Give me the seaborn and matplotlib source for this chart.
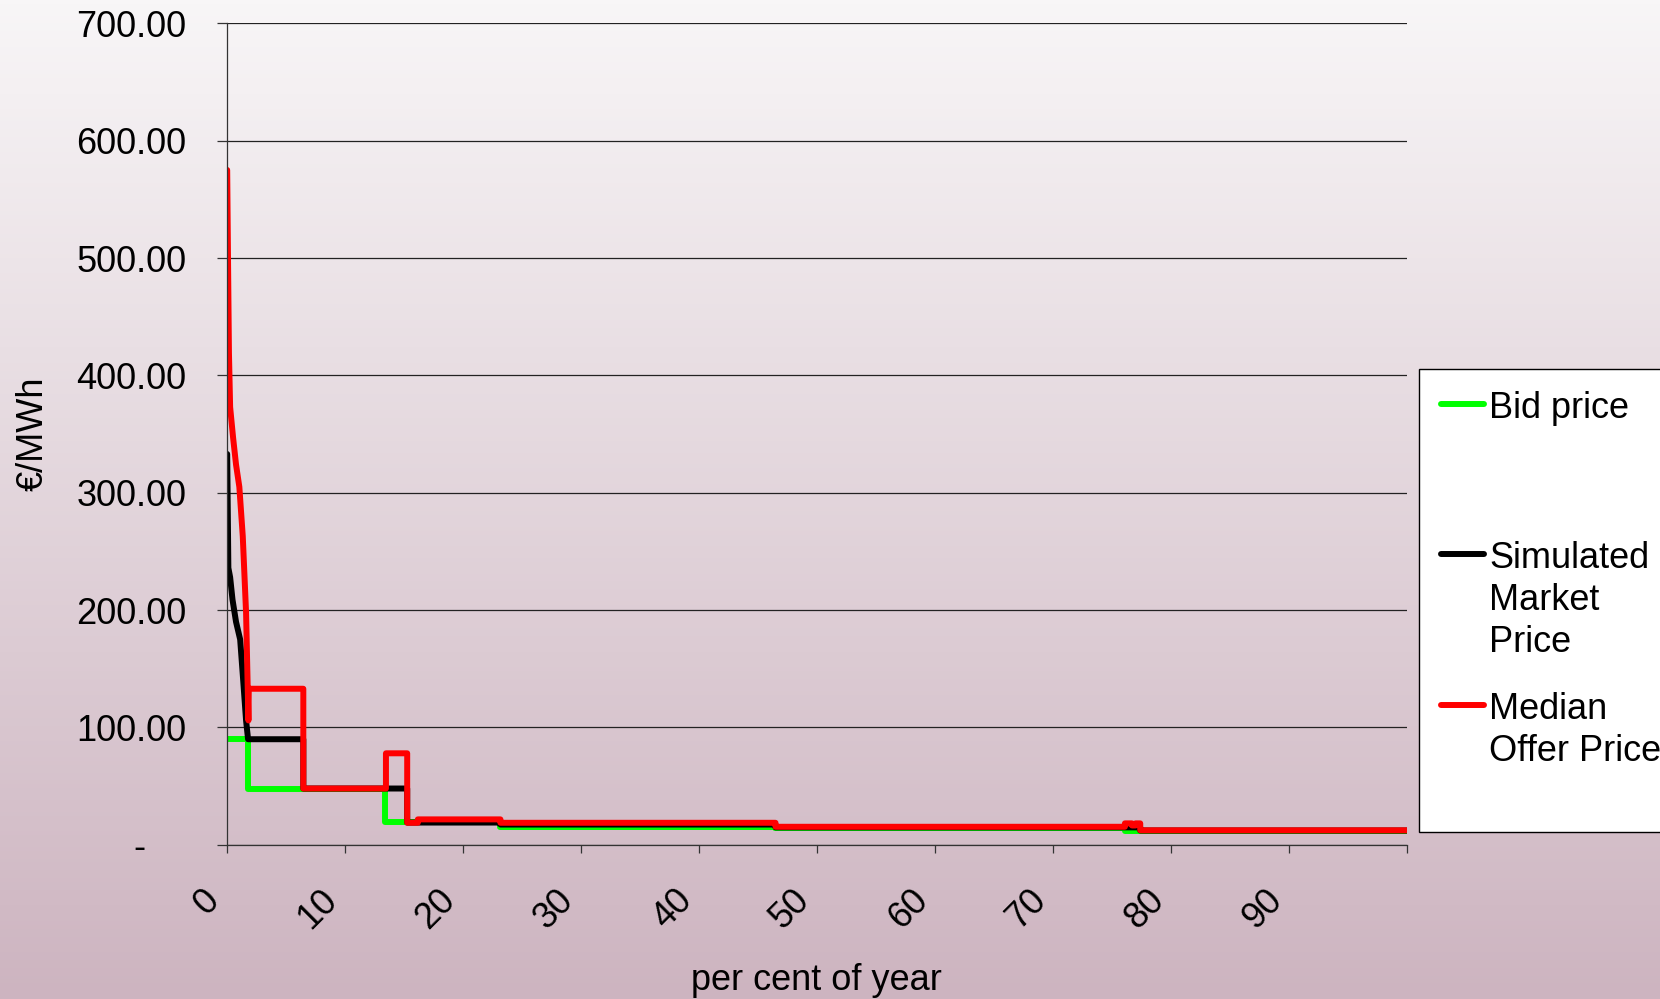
import numpy as np
import pandas as pd
import matplotlib
matplotlib.use('Agg')
import matplotlib.pyplot as plt
from matplotlib.colors import LinearSegmentedColormap
from matplotlib.legend_handler import HandlerLine2D
from matplotlib.transforms import ScaledTranslation
import seaborn as sns

sns.set_theme(style='ticks')
plt.rcParams['font.family'] = ['Liberation Sans', 'DejaVu Sans']
plt.rcParams['text.color'] = 'black'
plt.rcParams['axes.labelcolor'] = 'black'

# duration-curve vertices (per cent of year, EUR/MWh)
bid_x = [0, 1.8, 1.8, 13.4, 13.4, 23.2, 23.2, 46.5, 46.5, 76.1, 76.1, 100]
bid_y = [90, 90, 48, 48, 19.7, 19.7, 15, 15, 14.6, 14.6, 12, 12]

sim_x = [0.05, 0.15, 0.3, 0.5, 0.8, 1.15, 1.4, 1.65, 1.82, 6.5, 6.5, 15.3, 15.3,
         23.2, 23.2, 46.5, 46.5, 77.4, 77.4, 100]
sim_y = [333, 236, 228, 209, 190, 175, 141, 106, 90, 90, 48, 48, 19,
         19, 17.3, 17.3, 14.9, 14.9, 12.2, 12.2]

med_x = [0.05, 0.12, 0.2, 0.3, 0.55, 0.8, 1.08, 1.37, 1.65, 1.85, 1.88, 6.5, 6.5,
         13.5, 13.5, 15.3, 15.3, 16.2, 16.2, 23.2, 23.2, 46.5, 46.5, 76.1, 76.1,
         76.7, 76.7, 77.0, 77.0, 77.4, 77.4, 100]
med_y = [575, 500, 419, 373, 347, 324, 305, 263, 198, 106, 133, 133, 48,
         48, 78, 78, 18.8, 18.8, 21.7, 21.7, 18.8, 18.8, 15.4, 15.4, 18.3,
         18.3, 16.5, 16.5, 18.3, 18.3, 12.4, 12.4]

series = ['Bid price', 'Simulated Market Price', 'Median Offer Price']
legend_labels = ['Bid price\n\n', 'Simulated\nMarket\nPrice', 'Median\nOffer Price\n']
colors = ['#00ff00', '#000000', '#ff0000']

xticks = list(range(0, 101, 10))
xticklabels = [str(t) for t in range(0, 91, 10)] + ['']
yticks = list(range(0, 701, 100))
yticklabels = ['-    '] + ['%.2f' % t for t in yticks[1:]]

fig = plt.figure(figsize=(16.6, 9.99), dpi=100)

# gradient backdrop
bg = fig.add_axes([0, 0, 1, 1], zorder=-10)
cmap = LinearSegmentedColormap.from_list('bgc', ['#cdb4c0', '#f8f6f7'])
bg.imshow(np.linspace(0, 1, 256).reshape(-1, 1), aspect='auto', cmap=cmap,
          extent=[0, 1, 0, 1], origin='lower')
bg.axis('off')

ax = fig.add_axes([0.1365, 0.1543, 0.8476 - 0.1365, 0.9767 - 0.1543])
ax.set_facecolor('none')

for xs, ys, name, c in zip([bid_x, sim_x, med_x], [bid_y, sim_y, med_y], series, colors):
    sns.lineplot(x=xs, y=ys, ax=ax, color=c, label=name, estimator=None, sort=False,
                 linewidth=4.3, solid_joinstyle='round', solid_capstyle='round')

ax.set_xlim(0, 100)
ax.set_ylim(0, 700)
ax.set_xticks(xticks)
ax.set_xticklabels(xticklabels, rotation=45, ha='right', va='top', fontsize=26)
ax.set_yticks(yticks)
ax.set_yticklabels(yticklabels, fontsize=26)
off = ScaledTranslation(-8 / 100, 0, fig.dpi_scale_trans)
for lab in ax.get_xticklabels():
    lab.set_transform(lab.get_transform() + off)

ax.grid(axis='y', color='#222222', linewidth=0.9)
ax.grid(axis='x', visible=False)
ax.set_axisbelow(True)
for s in ['top', 'right']:
    ax.spines[s].set_visible(False)
for s in ['left', 'bottom']:
    ax.spines[s].set_color('#333333')
    ax.spines[s].set_linewidth(0.9)
ax.tick_params(axis='y', length=7.2, width=0.9, color='#333333', pad=21.8, labelcolor='black')
ax.tick_params(axis='x', length=6, width=0.9, color='#333333', pad=21, labelcolor='black')

ax.set_xlabel('per cent of year', fontsize=26, va='top')
ax.xaxis.set_label_coords(0.5, -0.144)
ax.set_ylabel('€/MWh', fontsize=26, va='center')
ax.yaxis.set_label_coords(-0.164, 0.5)


class TopHandler(HandlerLine2D):
    def __init__(self, shift, **kw):
        super().__init__(**kw)
        self.shift = shift

    def create_artists(self, legend, orig_handle, xdescent, ydescent, width, height, fontsize, trans):
        arts = super().create_artists(legend, orig_handle, xdescent, ydescent, width, height, fontsize, trans)
        for a in arts:
            a.set_ydata(np.asarray(a.get_ydata()) + self.shift)
        return arts


handles, _ = ax.get_legend_handles_labels()
leg = ax.legend(handles, legend_labels, loc='upper left',
                bbox_to_anchor=(1419 / 1660, 1 - 369 / 999), bbox_transform=fig.transFigure,
                borderaxespad=0, fontsize=26, frameon=True, fancybox=False,
                edgecolor='black', framealpha=1, facecolor='white',
                handlelength=1.2, handletextpad=0.15, borderpad=0.6, labelspacing=0.87,
                handler_map={h: TopHandler(34) for h in handles})
leg.get_frame().set_linewidth(1.0)
for t in leg.get_texts():
    t.set_linespacing(1.26)
    t.set_color('black')

fig.savefig('out.png', dpi=100)
